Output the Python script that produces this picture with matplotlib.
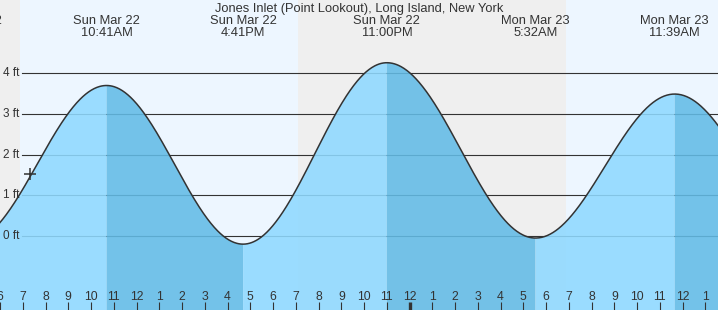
import numpy as np
import pandas as pd
import matplotlib
matplotlib.use('Agg')
import matplotlib.pyplot as plt

plt.rcParams['font.family'] = ['Liberation Sans', 'DejaVu Sans']

# --- data ---
title = "Jones Inlet (Point Lookout), Long Island, New York"
tide_times = ['2026-03-22 04:36', '2026-03-22 10:41', '2026-03-22 16:41',
              '2026-03-22 23:00', '2026-03-23 05:32', '2026-03-23 11:39',
              '2026-03-23 17:51']
tide_ft = [-0.15, 3.70, -0.20, 4.26, -0.05, 3.49, -0.10]
tide_dates = ['Sun Mar 22', 'Sun Mar 22', 'Sun Mar 22', 'Sun Mar 22',
              'Mon Mar 23', 'Mon Mar 23', 'Mon Mar 23']
tide_clock = ['4:36AM', '10:41AM', '4:41PM', '11:00PM', '5:32AM', '11:39AM', '5:51PM']
sun_times = ['2026-03-22 06:54', '2026-03-22 19:05', '2026-03-23 06:53', '2026-03-23 19:07']
now_time = '2026-03-22 07:20'
ft_levels = [0, 1, 2, 3, 4]
hour_ticks = list(range(6, 38))   # hours since Sun 00:00
midnight = 24

start = pd.Timestamp('2026-03-22 00:00')
def to_hours(s):
    return (pd.to_datetime(s) - start) / pd.Timedelta(hours=1)

t_ext = np.array([to_hours(s) for s in tide_times])
h_ext = np.array(tide_ft)
sun = [to_hours(s) for s in sun_times]
t_now = to_hours(now_time)

day_col = '#edf6ff'
night_col = '#efefef'
rise_col = '#8fd9ff'
fall_col = '#62bbe6'
ink = '#333333'

fig = plt.figure(figsize=(7.18, 3.10), dpi=100)
ax = fig.add_axes([0, 0, 1, 1])
x0, x1 = 6.0207, 37.553
ax.set_xlim(x0, x1)
ax.set_ylim(-1.819, 5.802)
for s in ax.spines.values():
    s.set_visible(False)

# day / night bands
ax.axvspan(x0 - 5, sun[0], color=night_col, lw=0, zorder=0)
ax.axvspan(sun[0], sun[1], color=day_col, lw=0, zorder=0)
ax.axvspan(sun[1], sun[2], color=night_col, lw=0, zorder=0)
ax.axvspan(sun[2], sun[3], color=day_col, lw=0, zorder=0)

# grid lines
for lv in ft_levels:
    ax.axhline(lv, xmin=22 / 718, xmax=1, color=ink, lw=0.8, zorder=1)
    ax.text(3 / 718, lv, f'{lv} ft', transform=ax.get_yaxis_transform(),
            ha='left', va='center', fontsize=8.5, color=ink, zorder=5)

# tide curve: cosine between successive high/low
curve_t, curve_h = [], []
for i in range(len(t_ext) - 1):
    ta, tb, ha_, hb = t_ext[i], t_ext[i + 1], h_ext[i], h_ext[i + 1]
    tt = np.linspace(ta, tb, 200)
    hh = (ha_ + hb) / 2 + (ha_ - hb) / 2 * np.cos(np.pi * (tt - ta) / (tb - ta))
    col = rise_col if hb > ha_ else fall_col
    ax.fill_between(tt, -5, hh, color=col, alpha=0.88, lw=0, zorder=2)
    curve_t.append(tt)
    curve_h.append(hh)
curve_t = np.concatenate(curve_t)
curve_h = np.concatenate(curve_h)
ax.plot(curve_t, curve_h, color=ink, lw=1.1, zorder=3)

# current time marker
ax.plot([t_now], [np.interp(t_now, curve_t, curve_h) + 0.05], marker='+', ms=9,
        mew=1.1, color=ink, zorder=4)

# hour ticks along bottom
ax.set_yticks([])
ax.set_xticks(hour_ticks)
ax.tick_params(axis='x', direction='in', length=5.5, width=0.8, color=ink,
               labelbottom=False)
ax.xaxis.set_zorder(5)
for tk, h in zip(ax.xaxis.get_major_ticks(), hour_ticks):
    if h == midnight:
        tk.tick1line.set_markeredgewidth(2.4)
xt = ax.get_xaxis_transform()
for h in hour_ticks:
    ax.text(h, 10.5 / 310, str((h - 1) % 12 + 1), transform=xt, ha='center',
            va='baseline', fontsize=8.8, color=ink, zorder=5)

# high / low labels on top
for t, d, c in zip(t_ext, tide_dates, tide_clock):
    ax.text(t, 1 - 24 / 310, d, transform=xt, ha='center', va='baseline',
            fontsize=9.3, color=ink, zorder=5, clip_on=False)
    ax.text(t, 1 - 36 / 310, c, transform=xt, ha='center', va='baseline',
            fontsize=9.3, color=ink, zorder=5, clip_on=False)

ax.text(0.5, 1 - 11.7 / 310, title, transform=ax.transAxes, ha='center',
        va='baseline', fontsize=9.3, color=ink, zorder=5)

fig.savefig('out.png', dpi=100)
